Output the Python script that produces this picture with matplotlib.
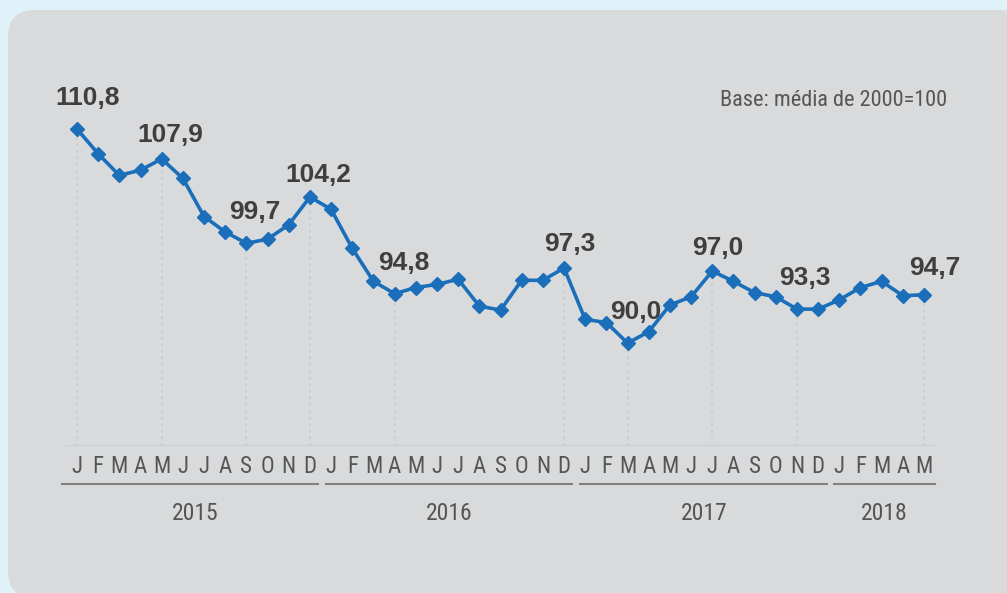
import matplotlib
matplotlib.use("Agg")
import matplotlib.pyplot as plt
from matplotlib import font_manager as fm
from matplotlib.patches import FancyBboxPatch
from matplotlib.transforms import IdentityTransform

# ---------------- data ----------------
months = ["J", "F", "M", "A", "M", "J", "J", "A", "S", "O", "N", "D"]
years = ["2015", "2016", "2017", "2018"]
months_per_year = [12, 12, 12, 5]
values = [
    110.8, 108.4, 106.3, 106.8, 107.9, 106.0, 102.3, 100.8, 99.7, 100.1, 101.5, 104.2,
    103.0, 99.2, 96.0, 94.8, 95.4, 95.7, 96.2, 93.6, 93.2, 96.1, 96.1, 97.3,
    92.3, 92.0, 90.0, 91.1, 93.7, 94.5, 97.0, 96.0, 94.9, 94.5, 93.3, 93.3,
    94.2, 95.4, 96.0, 94.6, 94.7,
]
labelled_idx = [0, 4, 8, 11, 15, 23, 26, 30, 34, 40]
note = "Base: média de 2000=100"

# label offsets (pixels) - style only
label_offsets = [(11, 24), (8.5, 17), (8, 24.5), (8, 14.5), (8.7, 24),
                 (5.3, 17), (7.8, 24), (5.6, 16), (8, 24), (11, 20)]


def narrow_font():
    fl = fm.fontManager.ttflist
    for want in ["Liberation Sans Narrow", "Arial Narrow", "Roboto Condensed"]:
        for f in fl:
            if f.name == want and f.weight in (400, "normal", "regular") and f.style == "normal":
                return fm.FontProperties(fname=f.fname), True
    for f in fl:
        if f.name in ("Noto Sans", "Open Sans", "Roboto") and str(f.stretch) in ("condensed", "semi-condensed", "75", "87.5") \
                and f.weight in (400, "normal", "regular") and f.style == "normal":
            return fm.FontProperties(fname=f.fname), True
    return fm.FontProperties(family=["Liberation Sans", "DejaVu Sans"]), False


nfont, is_narrow = narrow_font()
sz_month, sz_year, sz_note = (16.5, 17, 16) if is_narrow else (15, 15, 14.5)

W, H = 1007, 593
fig = plt.figure(figsize=(W / 100, H / 100), dpi=100)
fig.patch.set_facecolor("#dff2fa")

bg = FancyBboxPatch((8, -5), 1020, H - 10 + 5, boxstyle="round,pad=0,rounding_size=27",
                    transform=IdentityTransform(), facecolor="#d9dadc", edgecolor="none",
                    zorder=-5)
fig.patches.append(bg)

ax_left, ax_right = 66.4, 934.6
ax_bottom, ax_top = 446, 96.1
ax = fig.add_axes([ax_left / W, 1 - ax_bottom / H, (ax_right - ax_left) / W,
                   (ax_bottom - ax_top) / H])
ax.set_zorder(2)
ax.set_facecolor("none")
ax.set_xlim(-0.5, len(values) - 0.5)
ax.set_ylim(80, 114)
for s in ax.spines.values():
    s.set_visible(False)
ax.set_yticks([])
ax.set_xticks([])

ax.axhline(80, color="#cdcecf", lw=1.5, zorder=1)

x = list(range(len(values)))
for i in labelled_idx:
    ax.plot([i, i], [80, values[i]], color="#c9cacc", lw=1.2, ls=(0, (1.5, 2.5)), zorder=1)

ax.plot(x, values, color="#1b6fba", lw=2.6, marker="D", markersize=7.3,
        markeredgecolor="#1b6fba", zorder=3, clip_on=False)

for (i, (dx, dy)) in zip(labelled_idx, label_offsets):
    ax.annotate(f"{values[i]:.1f}".replace(".", ","), (i, values[i]),
                xytext=(dx, dy), textcoords="offset pixels", ha="center", va="baseline",
                fontsize=19, fontweight="bold", color="#3f3f3f",
                family=["Liberation Sans", "DejaVu Sans"])

axh = ax_bottom - ax_top
trans = ax.get_xaxis_transform()
month_labels = []
for n in months_per_year:
    month_labels += months[:n]
for i, m in enumerate(month_labels):
    ax.text(i, (446 - 473) / axh, m, transform=trans, ha="center", va="baseline",
            fontsize=sz_month, color="#555555", fontproperties=nfont)

start = 0
for k, (yr, n) in enumerate(zip(years, months_per_year)):
    end = start + n - 1
    x0 = start - 0.7 if k == 0 else start - 0.25
    x1 = end + 0.4 if k < len(years) - 1 else end + 0.5
    ax.plot([x0, x1], [(446 - 484) / axh] * 2, transform=trans, color="#808080",
            lw=1.5, clip_on=False)
    ax.text((start + end) / 2 + 0.1, (446 - 520) / axh, yr, transform=trans,
            ha="center", va="baseline", fontsize=sz_year, color="#555555",
            fontproperties=nfont)
    start = end + 1

fig.text(947 / W, 1 - 106 / H, note, ha="right", va="baseline", fontsize=sz_note,
         color="#555555", fontproperties=nfont)

fig.savefig("out.png", dpi=100, facecolor=fig.get_facecolor())
